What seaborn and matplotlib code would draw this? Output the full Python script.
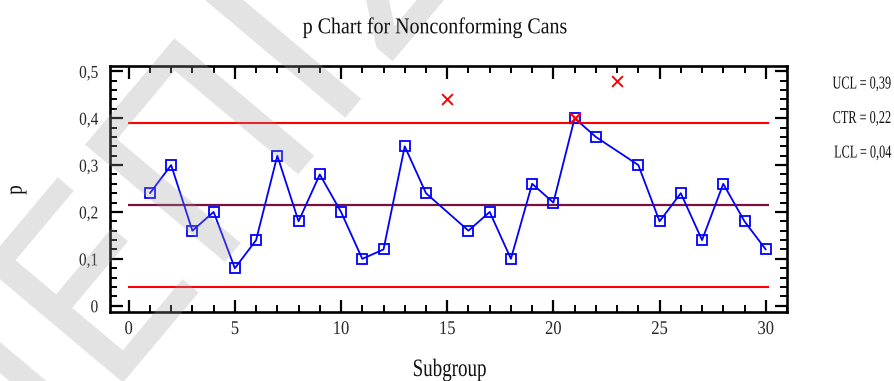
import numpy as np
import pandas as pd
import matplotlib
matplotlib.use("Agg")
import matplotlib.pyplot as plt
from matplotlib.ticker import MultipleLocator, FuncFormatter
from matplotlib.patheffects import AbstractPathEffect
from matplotlib.transforms import Affine2D
import seaborn as sns

# Fraction nonconforming per subgroup
subgroups = list(range(1, 31))
p_values = [0.24, 0.30, 0.16, 0.20, 0.08, 0.14, 0.32, 0.18, 0.28, 0.20,
            0.10, 0.12, 0.34, 0.24, 0.44, 0.16, 0.20, 0.10, 0.26, 0.22,
            0.40, 0.36, 0.48, 0.30, 0.18, 0.24, 0.14, 0.26, 0.18, 0.12]
# Subgroups excluded from the limit calculation
excluded = [15, 23]

# Control limits
ucl = 0.3895
ctr = 0.2152
lcl = 0.0409

df = pd.DataFrame({"Subgroup": subgroups, "p": p_values})
df["excluded"] = df["Subgroup"].isin(excluded)
kept = df[~df["excluded"]]
dropped = df[df["excluded"]]
flagged = kept[(kept["p"] > ucl) | (kept["p"] < lcl)]


class Condense(AbstractPathEffect):
    """Squeeze glyphs horizontally, as in a narrow typeface."""

    def __init__(self, sx=0.8, anchor="center"):
        super().__init__()
        self.sx = sx
        self.anchor = anchor

    def draw_path(self, renderer, gc, tpath, affine, rgbFace=None):
        ext = tpath.get_extents()
        if self.anchor == "left":
            cx = ext.x0
        elif self.anchor == "right":
            cx = ext.x1
        else:
            cx = 0.5 * (ext.x0 + ext.x1)
        t = Affine2D().translate(-cx, 0).scale(self.sx, 1).translate(cx, 0) + affine
        renderer.draw_path(gc, tpath, t, rgbFace)


sns.set_theme(style="white")
plt.rcParams["font.family"] = ["Liberation Serif", "DejaVu Serif"]

fig = plt.figure(figsize=(8.95, 3.81), dpi=100)
ax = fig.add_axes([0.1229, 0.1811, 0.7564, 0.6465])
ax.patch.set_alpha(0)

# Limit lines
ax.hlines([ucl, lcl], -0.05, 30.15, colors="#ff0000", linewidth=1.5, zorder=2)
ax.hlines(ctr, -0.05, 30.15, colors="#7a1040", linewidth=1.6, zorder=2)

# Subgroup proportions
sns.lineplot(data=kept, x="Subgroup", y="p", ax=ax, color="#0000ff",
             linewidth=1.3, marker="s", markersize=6.5, markerfacecolor="none",
             markeredgecolor="#0000ff", markeredgewidth=1.3, zorder=3)
sns.scatterplot(data=dropped, x="Subgroup", y="p", ax=ax, marker="x",
                color="#ff0000", s=60, linewidth=1.4, zorder=4)
sns.scatterplot(data=flagged, x="Subgroup", y="p", ax=ax, marker="x",
                color="#ff0000", s=60, linewidth=1.6, zorder=4)

ax.set_xlim(-0.88, 31.0)
ax.set_ylim(-0.0134, 0.512)

ax.xaxis.set_major_locator(MultipleLocator(5))
ax.xaxis.set_minor_locator(MultipleLocator(1))
ax.yaxis.set_major_locator(MultipleLocator(0.1))
ax.yaxis.set_minor_locator(MultipleLocator(0.02))


def comma_fmt(v, pos):
    if abs(v) < 1e-9:
        return "0"
    return f"{v:.1f}".replace(".", ",")


ax.yaxis.set_major_formatter(FuncFormatter(comma_fmt))
ax.xaxis.set_major_formatter(FuncFormatter(lambda v, pos: f"{v:.0f}"))

ax.tick_params(which="both", direction="in", top=True, right=True,
               bottom=True, left=True, color="black")
ax.tick_params(which="major", length=9, width=1.6)
ax.tick_params(which="minor", length=5, width=1.4)
ax.tick_params(axis="y", which="major", pad=8.5, labelsize=13)
ax.tick_params(axis="x", which="major", pad=6.5, labelsize=14)

for sp in ax.spines.values():
    sp.set_visible(True)
    sp.set_color("black")
    sp.set_linewidth(1.9)

ax.set_xlabel("")
ax.set_ylabel("")

for lbl in ax.get_xticklabels():
    lbl.set_path_effects([Condense(0.85, "center")])
for lbl in ax.get_yticklabels():
    lbl.set_path_effects([Condense(0.85, "right")])

txt_color = "#111111"
fig.text(435 / 895, 1 - 33.3 / 381, "p Chart for Nonconforming Cans",
         ha="center", va="baseline", fontsize=16.3, color=txt_color,
         path_effects=[Condense(0.88, "center")])
fig.text(449.5 / 895, 1 - 376 / 381, "Subgroup", ha="center",
         va="baseline", fontsize=18, color=txt_color,
         path_effects=[Condense(0.76, "center")])
fig.text(16 / 895, 1 - 190 / 381, "p", ha="center", va="center",
         rotation=90, fontsize=17, color=txt_color,
         path_effects=[Condense(0.8, "center")])

labels = [("UCL", ucl), ("CTR", ctr), ("LCL", lcl)]
for i, (name, val) in enumerate(labels):
    txt = f"{name} = {val:.2f}".replace(".", ",")
    fig.text(891 / 895, 1 - (84 + 34.5 * i) / 381, txt, ha="right",
             va="center", fontsize=13, color=txt_color,
             path_effects=[Condense(0.68, "right")])

# Watermark
fig.text(172 / 895, 1 - 188 / 381, "ΝΕΠΙΣ", ha="center", va="center",
         rotation=50, fontsize=180, color="#9a9a9a", alpha=0.28,
         family=["DejaVu Sans"], zorder=1)

fig.savefig("out.png", dpi=100)
